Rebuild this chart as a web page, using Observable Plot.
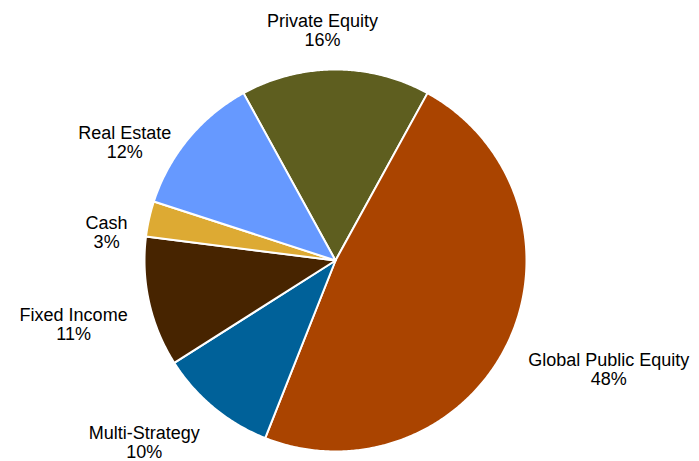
<!DOCTYPE html>
<html>
<head>
<meta charset="utf-8">
<script src="https://cdn.jsdelivr.net/npm/d3@7"></script>
<script src="https://cdn.jsdelivr.net/npm/@observablehq/plot@0.6"></script>
<style>
  html, body { margin: 0; padding: 0; background: #fff; }
  #chart svg { display: block; }
</style>
</head>
<body>
<div id="chart"></div>
<script>
// ---- data ----
const names = ["Private Equity", "Global Public Equity", "Multi-Strategy", "Fixed Income", "Cash", "Real Estate"];
const shares = [16, 48, 10, 11, 3, 12];
const colors = ["#5E5E1F", "#AA4400", "#006199", "#472400", "#DDAA33", "#6699FF"];

// ---- layout ----
const W = 699, H = 461;
const cx = 335, cy = 260, R = 191;   // pixel centre and radius
const fontSize = 18, lineH = 19, labelDist = 213;
const font = `${fontSize}px Arial, "Liberation Sans", sans-serif`;

const total = d3.sum(shares);
const toRad = Math.PI / 180;
let a = -shares[0] / total * 180;    // first slice centred at the top
const slicePts = [];
const labelsTop = [], labelsRest = [];
const ctx = document.createElement("canvas").getContext("2d");
ctx.font = font;

names.forEach((name, i) => {
  const a0 = a, a1 = a + shares[i] / total * 360;
  a = a1;
  slicePts.push({name, x: 0, y: 0});
  const n = Math.max(2, Math.ceil((a1 - a0) / 0.5));
  for (let j = 0; j <= n; j++) {
    const t = (a0 + (a1 - a0) * j / n) * toRad;
    slicePts.push({name, x: Math.sin(t), y: Math.cos(t)});
  }
  const m = (a0 + a1) / 2 * toRad;
  const s = Math.sin(m), c = Math.cos(m);
  const text = `${name}\n${shares[i]}%`;
  const w = Math.max(...text.split("\n").map(l => ctx.measureText(l).width));
  const top = c > 0.9;
  // label box: its inner edge sits on the anchor point of the mid-angle ray
  const lab = {
    text,
    x: (labelDist * s + (top ? 0 : Math.sign(s) * w / 2)) / R,
    y: (labelDist * c) / R
  };
  (top ? labelsTop : labelsRest).push(lab);
});

const textOpts = {
  x: "x", y: "y", text: "text",
  fontSize, lineHeight: lineH / fontSize,
  textAnchor: "middle", fill: "#000"
};

const chart = Plot.plot({
  width: W,
  height: H,
  margin: 0,
  x: {domain: [-cx / R, (W - cx) / R], axis: null},
  y: {domain: [-(H - cy) / R, cy / R], axis: null},
  color: {domain: names, range: colors},
  style: {fontFamily: 'Arial, "Liberation Sans", sans-serif', background: "#fff"},
  marks: [
    Plot.line(slicePts, {
      x: "x", y: "y", z: "name", fill: "name",
      stroke: "white", strokeWidth: 2, strokeLinejoin: "round",
      curve: "linear-closed"
    }),
    Plot.text(labelsTop, {...textOpts, lineAnchor: "bottom", dx: -13, dy: -2}),
    Plot.text(labelsRest, {...textOpts, lineAnchor: "top", dy: 1})
  ]
});
document.getElementById("chart").appendChild(chart);
</script>
</body>
</html>
